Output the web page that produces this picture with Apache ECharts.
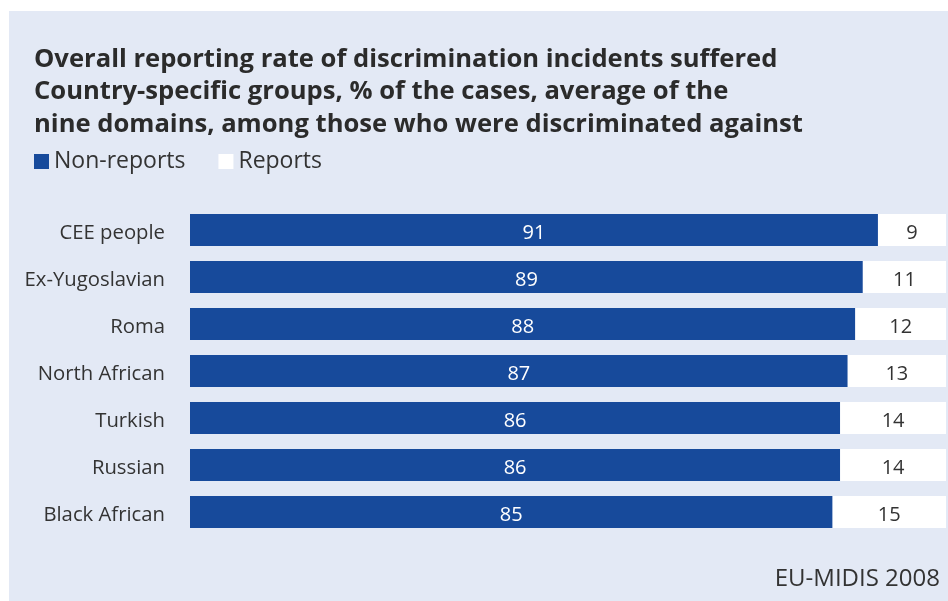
<!DOCTYPE html>
<html><head><meta charset="utf-8">
<script src="https://cdn.jsdelivr.net/npm/echarts@6/dist/echarts.min.js"></script>
<style>html,body{margin:0;padding:0;background:#fff;}#c{width:948px;height:601px;}</style>
</head><body><div id="c"></div>
<script>
const categories = ["CEE people","Ex-Yugoslavian","Roma","North African","Turkish","Russian","Black African"];
const nonReports = [91,89,88,87,86,86,85];
const reports = [9,11,12,13,14,14,15];
const seriesNames = ["Non-reports","Reports"];
const titleText = "Overall reporting rate of discrimination incidents suffered\nCountry-specific groups, % of the cases, average of the\nnine domains, among those who were discriminated against";
const sourceText = "EU-MIDIS 2008";

const FONT = "Open Sans";
const chart = echarts.init(document.getElementById('c'), null, {renderer:'canvas'});
chart.setOption({
  backgroundColor: '#ffffff',
  animation: false,
  graphic: [
    {type:'rect', left:9, top:11, shape:{width:939, height:590}, style:{fill:'#e3e9f5'}, z:-10},
    {type:'text', right:8, top:567, style:{text:sourceText, font:'24px '+FONT, fill:'#333333', textAlign:'right'}}
  ],
  title: {
    text: titleText, left: 29, top: 38,
    textStyle: {fontFamily: FONT, fontWeight:'bold', fontSize: 25.6, lineHeight: 32.5, color:'#2b2b2b'}
  },
  legend: {
    left: 29, top: 145, icon:'rect', itemWidth:15, itemHeight:15, itemGap: 33,
    textStyle: {fontFamily: FONT, fontSize: 23, color:'#333333'},
    data: seriesNames
  },
  grid: {left:190, right:2, top:206.5, bottom:65.5},
  xAxis: {type:'value', min:0, max:100, show:false},
  yAxis: {
    type:'category', data: categories, inverse:true,
    axisLine:{show:false}, axisTick:{show:false},
    axisLabel:{margin:25, formatter: v => '{a|' + v + '}',
      rich:{a:{fontFamily: FONT, fontSize:20.3, color:'#333333', padding:[6,0,0,0]}}}
  },
  series: [
    {name: seriesNames[0], type:'bar', stack:'a', data: nonReports, barWidth:32,
     itemStyle:{color:'#174a9b'},
     label:{show:true, position:'inside', color:'#ffffff', fontFamily:FONT, fontSize:20, offset:[0,3]}},
    {name: seriesNames[1], type:'bar', stack:'a', data: reports, barWidth:32,
     itemStyle:{color:'#ffffff'},
     label:{show:true, position:'inside', color:'#333333', fontFamily:FONT, fontSize:20, offset:[0,3]}}
  ]
});
</script></body></html>
